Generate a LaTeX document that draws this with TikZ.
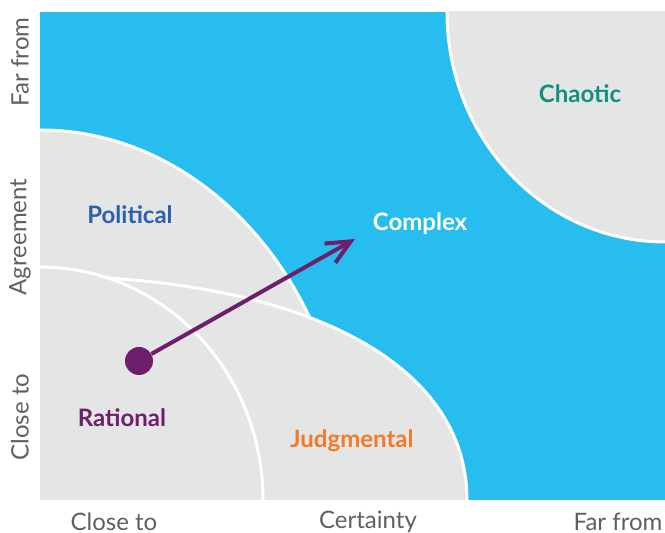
\documentclass[tikz,border=0pt]{standalone}
\usepackage{fontspec}
\setmainfont{Lato}
\usetikzlibrary{positioning,arrows.meta}
\definecolor{skyblue}{HTML}{27BEEF}
\definecolor{zonegray}{HTML}{E4E5E5}
\definecolor{plum}{HTML}{6E1E6B}
\definecolor{chaosgreen}{HTML}{138F80}
\definecolor{polblue}{HTML}{2B60AC}
\definecolor{judgorange}{HTML}{F47A2A}
\definecolor{axisgray}{HTML}{606060}

\begin{document}
\begin{tikzpicture}[x=0.5pt, y=-0.5pt,
		zone/.style={fill=zonegray, draw=white, line width=1.5pt},
		rim/.style={draw=white, line width=1.5pt},
		zonename/.style={font=\bfseries\fontsize{12}{14}\selectfont},
		axisname/.style={font=\fontsize{12}{14}\selectfont, text=axisgray, inner sep=0pt},
		]

		\useasboundingbox (0,0) rectangle (665,533);
		\fill[skyblue] (40,12) rectangle (665,500);
		\begin{scope}
			\clip (40,12) rectangle (665,500);
			\path[zone] (665,12) ellipse [x radius=218, y radius=230];
			\path[zone] (40,500) ellipse [x radius=310, y radius=370];
			\fill[zonegray] (40,500) -- (40,276) .. controls (290,276) and (467,356) .. (467,500) -- cycle;
			\draw[rim] (40,276) .. controls (290,276) and (467,356) .. (467,500);
			\path[zone] (40,500) ellipse [x radius=223, y radius=233];
		\end{scope}

		\node (chaotic) [zonename, text=chaosgreen] at (580,94) {Chaotic};
		\node (political) [zonename, text=polblue] at (130,215) {Political};
		\node (complex) [zonename, text=white] at (420,224) {Complex};
		\node (rational) [zonename, text=plum] at (122,418) {Rational};
		\node (judgmental) [zonename, text=judgorange] at (352,441) {Judgmental};

		\node (start) [circle, fill=plum, inner sep=0pt, minimum size=14pt] at (139,361) {};
		\coordinate (aim) at (355,239);
		\draw[plum, line width=2pt, -{Straight Barb[length=12pt, width=11pt]}] (start) -- (aim);

		\node (xclose) [axisname] at (114,522) {Close to};
		\node (xmid) [axisname] at (368,522) {Certainty};
		\node (xfar) [axisname] at (618,522) {Far from};
		\node (yfar) [axisname, rotate=90] at (20,62) {Far from};
		\node (ymid) [axisname, rotate=90] at (20,237) {Agreement};
		\node (yclose) [axisname, rotate=90] at (20,417) {Close to};

	\end{tikzpicture}
\end{document}
